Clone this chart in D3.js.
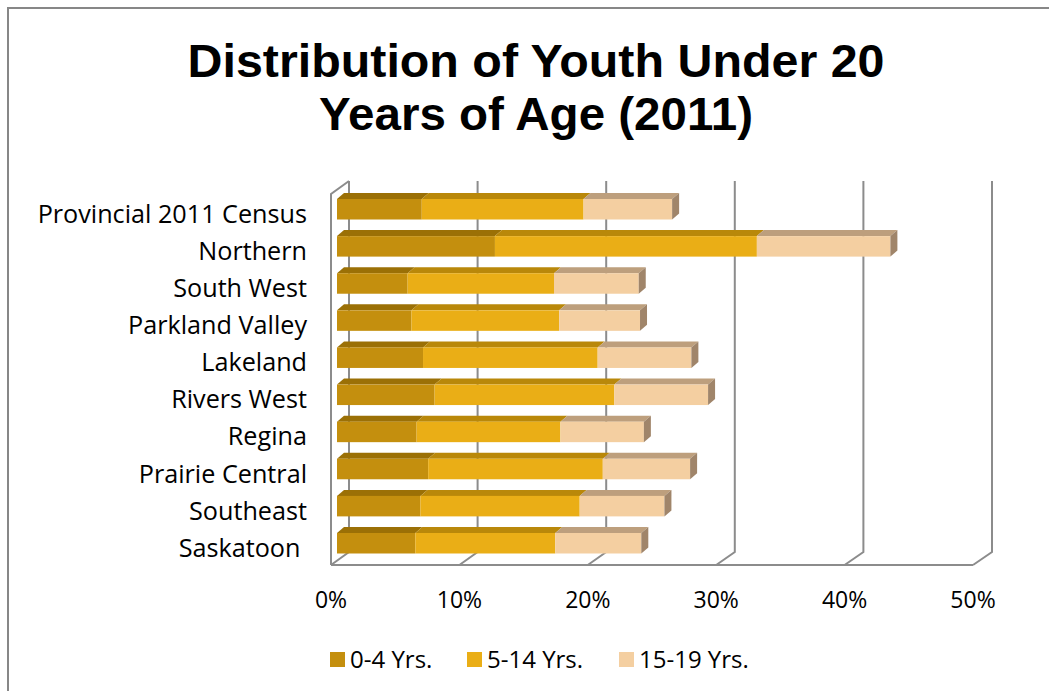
<!DOCTYPE html>
<html>
<head>
<meta charset="utf-8">
<script src="https://cdn.jsdelivr.net/npm/d3@7"></script>
<style>
  html, body { margin: 0; padding: 0; background: #fff; }
  svg { display: block; }
  text { font-family: "Open Sans", "Noto Sans", sans-serif; fill: #000; white-space: pre; }
  text.title { font-family: "Liberation Sans", Arial, sans-serif; }
</style>
</head>
<body>
<svg id="chart" width="1049" height="691"></svg>
<script>
// Regions, listed top to bottom
const regions = ["Provincial 2011 Census", "Northern", "South West", "Parkland Valley",
  "Lakeland", "Rivers West", "Regina", "Prairie Central", "Southeast", "Saskatoon "];

// Share of population (%) by age group
const age0to4   = [6.6, 12.3, 5.5, 5.8, 6.7, 7.6, 6.2, 7.1, 6.5, 6.1];
const age5to14  = [12.6, 20.4, 11.4, 11.5, 13.6, 14.0, 11.2, 13.6, 12.4, 10.9];
const age15to19 = [6.9, 10.4, 6.6, 6.3, 7.3, 7.3, 6.5, 6.8, 6.6, 6.7];

const seriesNames = ["0-4 Yrs.", "5-14 Yrs.", "15-19 Yrs."];
const tickValues = [0, 10, 20, 30, 40, 50];

const palette = [
  { front: "#C48F0E", top: "#9B7006", side: "#8A6405" },
  { front: "#EAAE16", top: "#B9880A", side: "#A67A08" },
  { front: "#F4CFA1", top: "#BD9F7D", side: "#A0856A" }
];

const svg = d3.select("#chart");

// Outer chart frame
svg.append("rect")
  .attr("x", 8).attr("y", 8).attr("width", 1200).attr("height", 900)
  .attr("fill", "none").attr("stroke", "#878787").attr("stroke-width", 2);

// Title, two lines
const titleLines = [
  { text: "Distribution of Youth Under 20", y: 77, width: 697 },
  { text: "Years of Age (2011)", y: 130, width: 434 }
];
svg.append("g").selectAll("text").data(titleLines).join("text")
  .attr("class", "title")
  .attr("x", 536).attr("y", d => d.y)
  .attr("text-anchor", "middle")
  .attr("font-weight", 700)
  .attr("font-size", 46)
  .attr("textLength", d => d.width)
  .attr("lengthAdjust", "spacingAndGlyphs")
  .text(d => d.text);

// Scales: back wall, front floor edge and the bar plane in between
const xBack  = d3.scaleLinear().domain([0, 50]).range([349, 992]);
const xFront = d3.scaleLinear().domain([0, 50]).range([331, 973]);
const x      = d3.scaleLinear().domain([0, 50]).range([337, 979]);
const wallTop = 181, floorBack = 552, floorFront = 565;

const y = d3.scaleBand().domain(regions).range([190.7, 561.8])
  .paddingInner(0.4476).paddingOuter(0.2238);

const dx = 7, dy = -6;   // depth offset of the bar boxes
const gridColor = "#8C8C8C";

// Walls and gridlines
const walls = svg.append("g").attr("fill", "none").attr("stroke", gridColor).attr("stroke-width", 2);
tickValues.forEach(t => {
  walls.append("path").attr("d",
    `M${xBack(t)},${wallTop}L${xBack(t)},${floorBack}L${xFront(t)},${floorFront}`);
});
walls.append("path").attr("d",
  `M${xFront(0)},${floorFront}L${xFront(50)},${floorFront}`);
walls.append("path").attr("d",
  `M${xFront(0)},${floorFront}L${xFront(0)},${wallTop + 13}L${xBack(0)},${wallTop}`);

// Stack the series
const rows = regions.map((r, i) => ({ region: r, s0: age0to4[i], s1: age5to14[i], s2: age15to19[i] }));
const stacked = d3.stack().keys(["s0", "s1", "s2"])(rows);

const h = y.bandwidth();
const barsG = svg.append("g");
rows.forEach((row, i) => {
  const yt = y(row.region);
  stacked.forEach((layer, k) => {
    const [a, b] = layer[i];
    const x0 = x(a), x1 = x(b);
    const c = palette[k];
    // top face
    barsG.append("path")
      .attr("d", `M${x0},${yt}L${x1},${yt}L${x1 + dx},${yt + dy}L${x0 + dx},${yt + dy}Z`)
      .attr("fill", c.top);
    // front face
    barsG.append("rect")
      .attr("x", x0).attr("y", yt).attr("width", x1 - x0).attr("height", h)
      .attr("fill", c.front);
    if (k === stacked.length - 1) {
      // right end face
      barsG.append("path")
        .attr("d", `M${x1},${yt}L${x1 + dx},${yt + dy}L${x1 + dx},${yt + h + dy}L${x1},${yt + h}Z`)
        .attr("fill", c.side);
    }
  });
});

// Category labels
svg.append("g").selectAll("text").data(regions).join("text")
  .attr("x", 307)
  .attr("y", d => y(d) + h / 2 + 13.5)
  .attr("text-anchor", "end")
  .attr("font-size", 25.2)
  .text(d => d);

// Value axis labels
svg.append("g").selectAll("text").data(tickValues).join("text")
  .attr("x", d => xFront(d))
  .attr("y", 608)
  .attr("text-anchor", "middle")
  .attr("font-size", 23)
  .text(d => d3.format(".0%")(d / 100));

// Legend
const legendX = [330, 467, 619];
const legend = svg.append("g").selectAll("g").data(seriesNames).join("g")
  .attr("transform", (d, i) => `translate(${legendX[i]},652)`);
legend.append("rect").attr("width", 15).attr("height", 15)
  .attr("fill", (d, i) => palette[i].front);
legend.append("text").attr("x", 20).attr("y", 16)
  .attr("font-size", 24).text(d => d);
</script>
</body>
</html>
